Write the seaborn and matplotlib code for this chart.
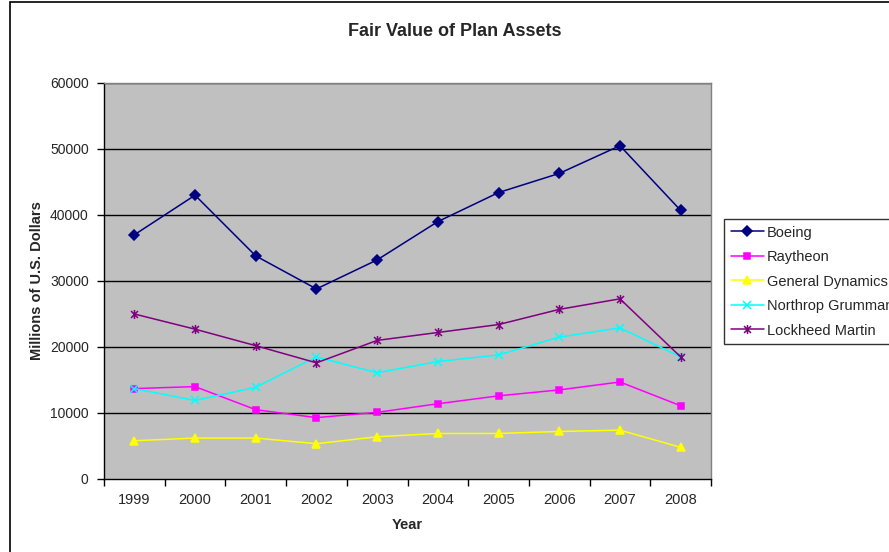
import numpy as np
import pandas as pd
import matplotlib
matplotlib.use("Agg")
import matplotlib.pyplot as plt
from matplotlib.path import Path
from matplotlib.patches import Rectangle
import seaborn as sns

years = [1999, 2000, 2001, 2002, 2003, 2004, 2005, 2006, 2007, 2008]
boeing = [37000, 43000, 33800, 28800, 33200, 39000, 43400, 46300, 50500, 40700]
raytheon = [13700, 14000, 10500, 9300, 10100, 11400, 12600, 13500, 14700, 11100]
general_dynamics = [5800, 6200, 6200, 5350, 6400, 6900, 6900, 7200, 7400, 4800]
northrop = [13700, 11900, 13900, 18500, 16100, 17800, 18800, 21500, 22900, 18500]
lockheed = [25000, 22700, 20200, 17600, 21000, 22200, 23400, 25700, 27300, 18500]

series_names = ["Boeing", "Raytheon", "General Dynamics", "Northrop Grumman", "Lockheed Martin"]
series_values = [boeing, raytheon, general_dynamics, northrop, lockheed]
y_ticks = [0, 10000, 20000, 30000, 40000, 50000, 60000]

sns.set_theme(style="white")
plt.rcParams["font.family"] = ["Liberation Sans", "DejaVu Sans"]

fig = plt.figure(figsize=(8.89, 5.52), dpi=100)
ax = fig.add_axes([104/889, 1 - 479/552, (711-104)/889, (479-83)/552])
ax.set_facecolor("#C0C0C0")

star_path = Path(
    [(-1, -1), (1, 1), (-1, 1), (1, -1), (0, -1.3), (0, 1.3)],
    [Path.MOVETO, Path.LINETO, Path.MOVETO, Path.LINETO, Path.MOVETO, Path.LINETO],
)

colors = ["#000080", "#FF00FF", "#FFFF00", "#00FFFF", "#800080"]
marker_list = ["D", "s", "^", "x", star_path]
msizes = [5, 5, 6, 6, 6.5]

for g in y_ticks[1:]:
    ax.axhline(g, color="black", lw=1.0, zorder=1)

for name, vals, c, m, ms in zip(series_names, series_values, colors, marker_list, msizes):
    d = pd.DataFrame({"idx": np.arange(len(years)), "value": vals})
    sns.lineplot(data=d, x="idx", y="value", color=c, marker=m, markersize=ms,
                 markerfacecolor=c, markeredgecolor=c, markeredgewidth=1.1,
                 linewidth=1.1, ax=ax, label=name, zorder=3)

ax.set_xlim(-0.5, 9.5)
ax.set_ylim(0, 60000)
ax.set_yticks(y_ticks)
ax.set_yticklabels([str(t) for t in y_ticks], fontsize=10)
ax.set_xticks(np.arange(-0.5, 10, 1.0))
ax.set_xticklabels([])
ax.set_xticks(np.arange(0, 10, 1.0), minor=True)
ax.set_xticklabels([str(y) for y in years], minor=True, fontsize=10.5)
ax.tick_params(axis="x", which="major", direction="out", length=5, width=1, color="black", bottom=True)
ax.tick_params(axis="x", which="minor", length=0, pad=10, bottom=True)
ax.tick_params(axis="y", direction="out", length=5, width=1, color="black", left=True, pad=6)
ax.grid(False)

for s in ["left", "bottom"]:
    ax.spines[s].set_color("black")
    ax.spines[s].set_linewidth(1.0)
for s in ["top", "right"]:
    ax.spines[s].set_color("#808080")
    ax.spines[s].set_linewidth(1.0)

ax.set_xlabel("Year", fontsize=10.5, fontweight="bold", labelpad=8)
ax.set_ylabel("Millions of U.S. Dollars", fontsize=10.5, fontweight="bold", labelpad=4)
fig.text(455/889, 1 - 32/552, "Fair Value of Plan Assets", ha="center", va="center",
         fontsize=13, fontweight="bold")

handles, labels = ax.get_legend_handles_labels()
ax.get_legend().remove()
leg = fig.legend(handles, labels, loc="upper left", bbox_to_anchor=(724/889, 1 - 219/552),
                 frameon=True, fancybox=False, shadow=False, fontsize=10.5,
                 borderpad=0.45, labelspacing=0.72, handlelength=2.3, handletextpad=0.2,
                 borderaxespad=0)
leg.get_frame().set_edgecolor("black")
leg.get_frame().set_linewidth(1.0)

fig.patches.append(Rectangle((10/889, -0.1), 2.0, 1 - 2/552 + 0.1, transform=fig.transFigure,
                             fill=False, edgecolor="black", lw=1.2, zorder=10))

fig.savefig("out.png", dpi=100)
